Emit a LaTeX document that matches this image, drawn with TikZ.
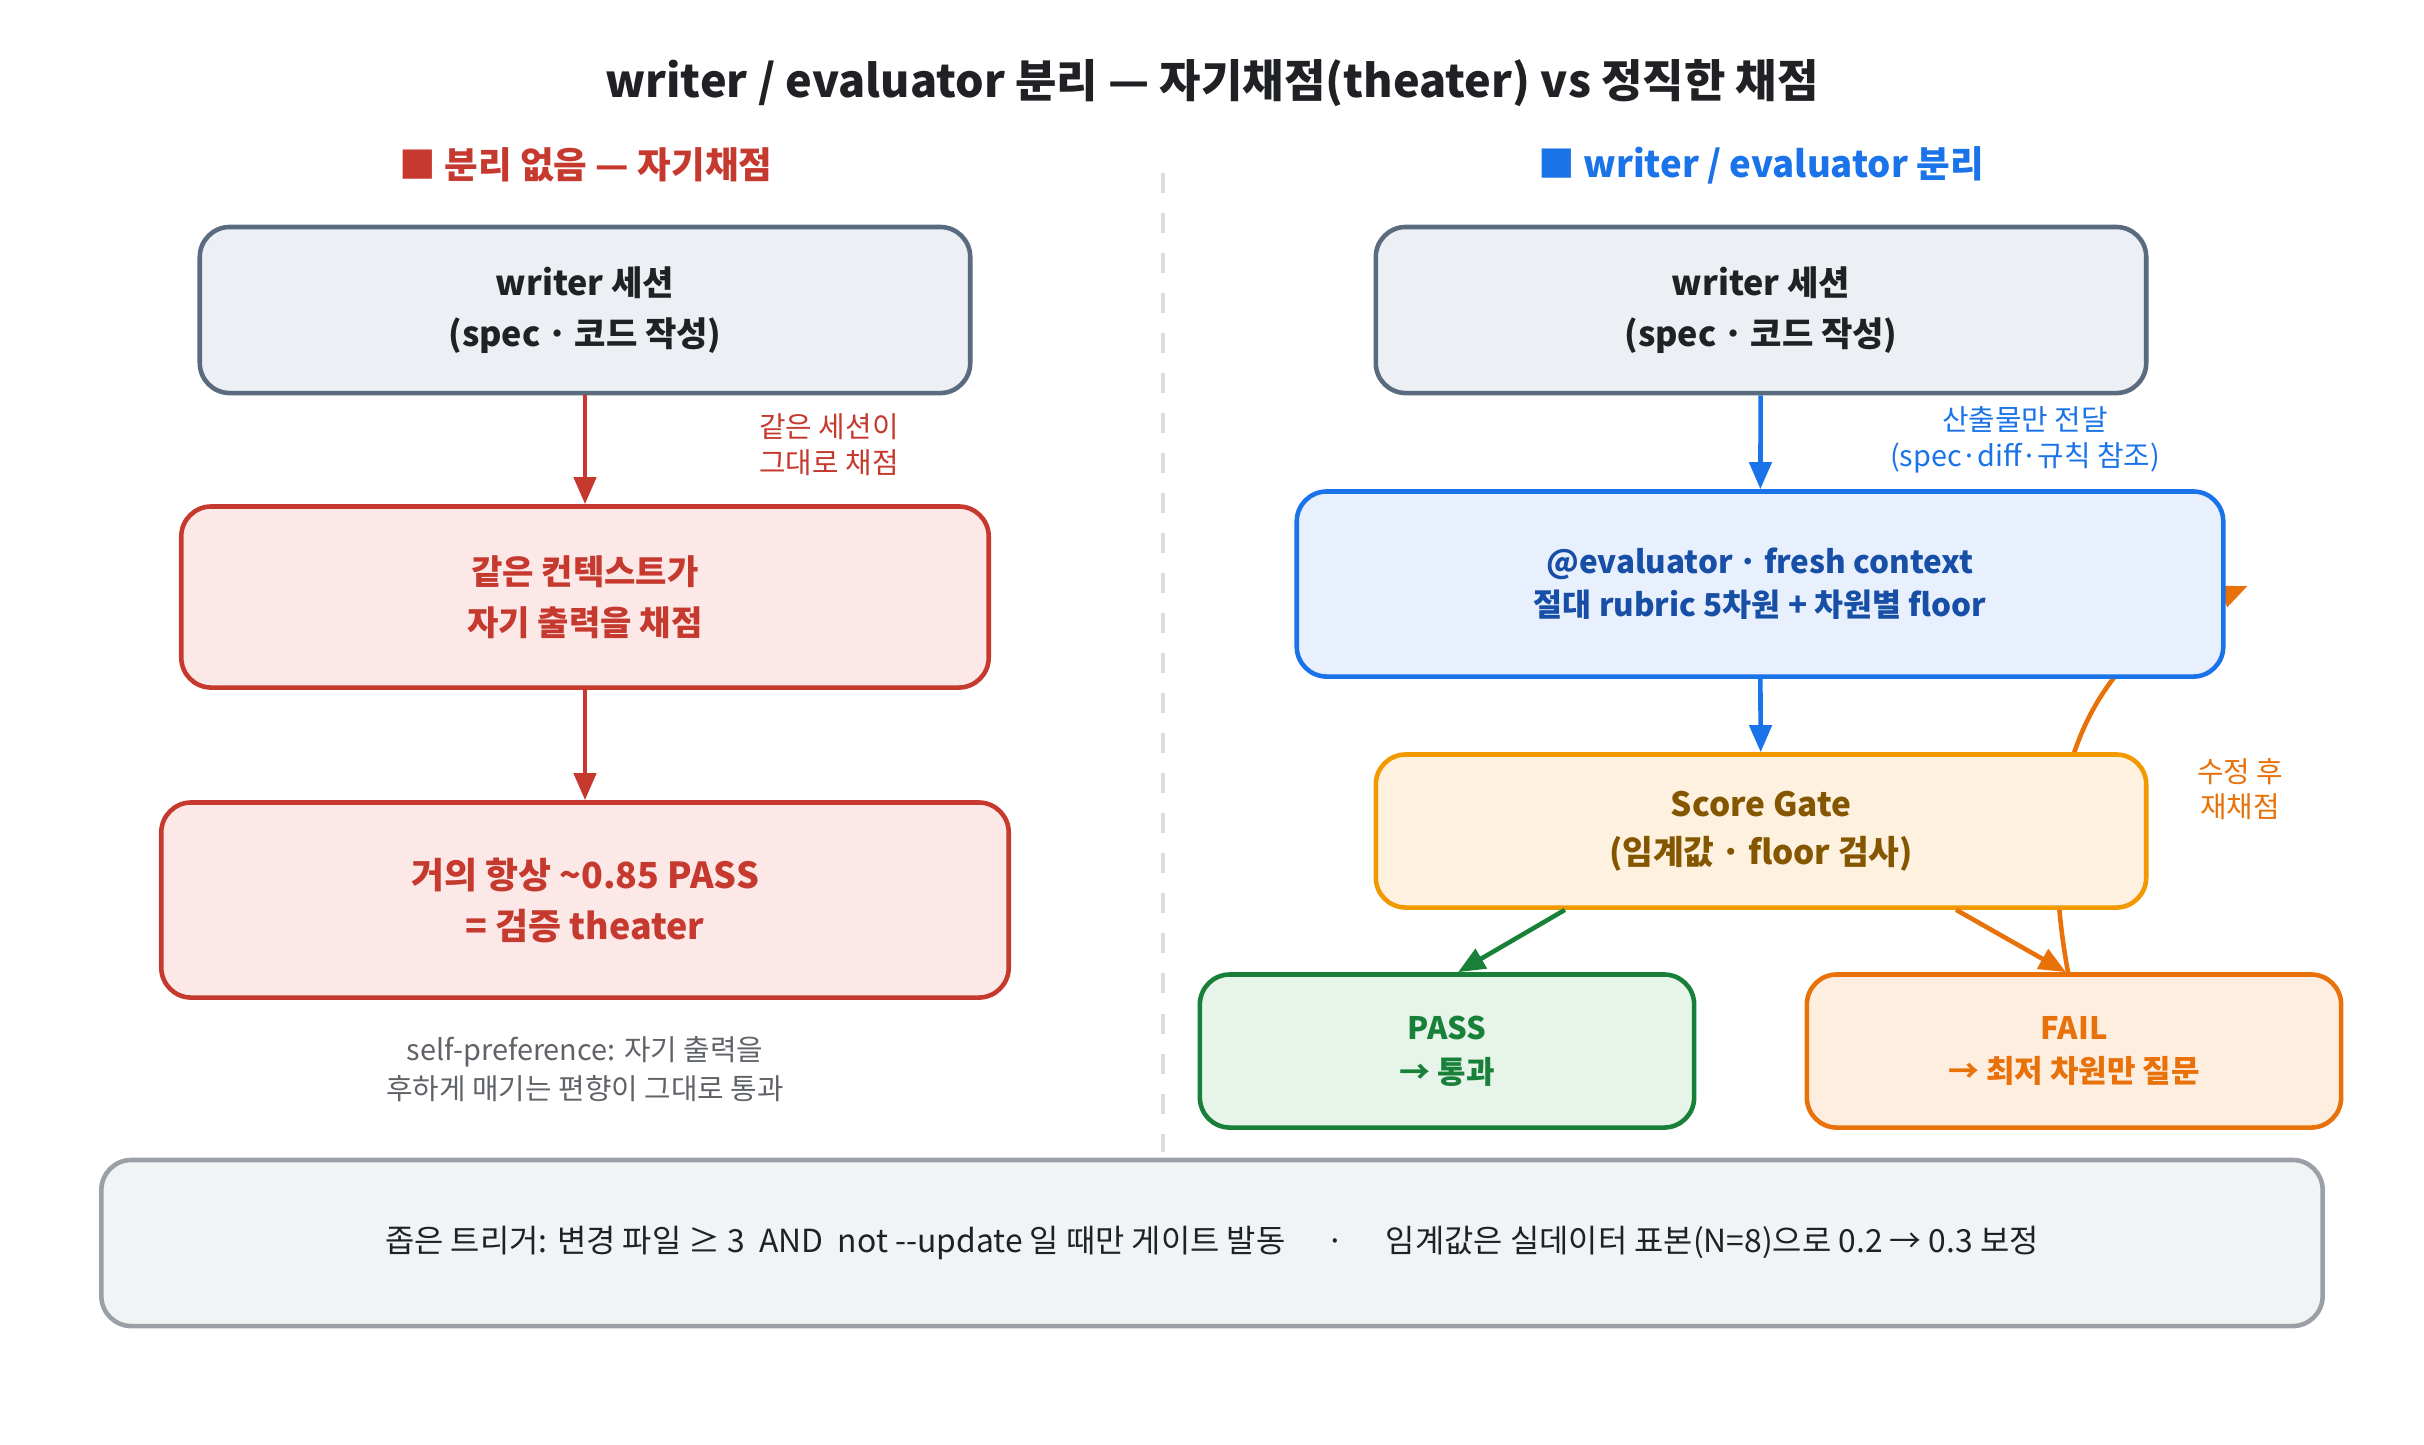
\documentclass[tikz,border=0pt]{standalone}
\usepackage{fontspec}
\setmainfont{Noto Sans CJK KR}
\usetikzlibrary{arrows.meta,positioning,calc,backgrounds}
\definecolor{ink}{HTML}{202124}
\definecolor{muted}{HTML}{5F6368}
\definecolor{slate}{HTML}{5B6B7F}
\definecolor{slatefill}{HTML}{ECEFF3}
\definecolor{alarm}{HTML}{C5392F}
\definecolor{alarmfill}{HTML}{FCE8E6}
\definecolor{sky}{HTML}{1A73E8}
\definecolor{skyfill}{HTML}{E8F0FD}
\definecolor{skyink}{HTML}{174EA6}
\definecolor{amber}{HTML}{F29900}
\definecolor{amberfill}{HTML}{FEF1DF}
\definecolor{amberink}{HTML}{855600}
\definecolor{leaf}{HTML}{188038}
\definecolor{leaffill}{HTML}{E6F4EA}
\definecolor{rust}{HTML}{E8710A}
\definecolor{rustfill}{HTML}{FDEEE0}
\definecolor{ash}{HTML}{9AA0A6}
\definecolor{ashfill}{HTML}{F1F3F4}
\definecolor{rule}{HTML}{DADCE0}
\newcommand{\middot}{{\mdseries ・}}
\tikzset{
  box/.style={rounded corners=0.3cm,line width=1.3pt,align=center,inner sep=0pt,
    font=\bfseries\fontsize{9.7}{14.5}\selectfont},
  writerbox/.style={box,draw=slate,fill=slatefill,text=ink,minimum width=7.7cm,minimum height=1.66cm},
  selfbox/.style={box,draw=alarm,fill=alarmfill,text=alarm},
  evalbox/.style={box,draw=sky,fill=skyfill,text=skyink,minimum width=9.26cm,minimum height=1.85cm,
    font=\bfseries\fontsize{8.95}{12.2}\selectfont},
  gatebox/.style={box,draw=amber,fill=amberfill,text=amberink,minimum width=7.7cm,minimum height=1.53cm,
    font=\bfseries\fontsize{9.5}{13.6}\selectfont},
  passbox/.style={box,draw=leaf,fill=leaffill,text=leaf,minimum width=4.94cm,minimum height=1.53cm},
  failbox/.style={box,draw=rust,fill=rustfill,text=rust,minimum width=5.34cm,minimum height=1.53cm},
  outcome/.style={font=\bfseries\fontsize{8.8}{12.4}\selectfont},
  footbox/.style={rounded corners=0.3cm,line width=1.3pt,draw=ash,fill=ashfill,text=ink,
    minimum width=22.2cm,minimum height=1.66cm,font=\fontsize{9.05}{12}\selectfont},
  heading/.style={font=\bfseries\fontsize{10.4}{12}\selectfont},
  note/.style={align=center,font=\fontsize{8.2}{10.3}\selectfont},
  flow/.style={line width=1.3pt,-{Triangle[length=0.27cm,width=0.22cm]}}
}

\begin{document}
\begin{tikzpicture}[x=0.01cm,y=-0.01cm]
  \useasboundingbox (0,0) rectangle (2424,1444);

  % Title and column headings
  \node[font=\bfseries\fontsize{12.8}{15}\selectfont,text=ink] (title) at (1212,83)
    {writer / evaluator 분리 — 자기채점(theater) vs 정직한 채점};
  \node[heading,text=alarm] (headL) at (586,165) {■\ 분리 없음 — 자기채점};
  \node[heading,text=sky] (headR) at (1761,165) {■\ writer / evaluator 분리};

  % Divider between the two columns
  \draw[rule,line width=1pt,dash pattern=on 0.2cm off 0.2cm] (1163,173) -- (1163,1152);

  % Left column: no separation
  \node[writerbox] (writerL) at (585,310) {writer 세션\\(spec\middot 코드 작성)};
  \node[selfbox,minimum width=8.07cm,minimum height=1.81cm] (same) at (585,597)
    {같은 컨텍스트가\\자기 출력을 채점};
  \node[selfbox,minimum width=8.47cm,minimum height=1.95cm,font=\bfseries\fontsize{10.2}{14.5}\selectfont]
    (theater) at (585,900) {거의 항상 \textasciitilde 0.85 PASS\\= 검증 theater};

  \draw[flow,alarm] (writerL) -- (same);
  \draw[flow,alarm] (same) -- (theater);

  \node[note,text=alarm] (sameNote) at (829,445) {같은 세션이\\그대로 채점};
  \node[note,text=muted,font=\fontsize{8.2}{11}\selectfont] (biasNote) at (585,1069)
    {self-preference: 자기 출력을\\후하게 매기는 편향이 그대로 통과};

  % Right column: writer / evaluator split
  \node[writerbox] (writerR) at (1761,310) {writer 세션\\(spec\middot 코드 작성)};
  \node[evalbox] (eval) at (1760,584)
    {@evaluator\middot fresh context\\절대 rubric 5차원 + 차원별 floor};
  \node[gatebox] (gate) at (1761,831) {Score Gate\\(임계값\middot floor 검사)};
  \node[passbox,outcome] (pass) at (1447,1051) {PASS\\→ 통과};
  \node[failbox,outcome] (fail) at (2074,1051) {FAIL\\→ 최저 차원만 질문};

  \draw[flow,sky] (writerR) -- (eval);
  \draw[flow,sky] (eval) -- (gate);
  \draw[flow,leaf] ([xshift=-1.96cm]gate.south) -- ([xshift=0.11cm]pass.north);
  \draw[flow,rust] ([xshift=1.95cm]gate.south) -- ([xshift=-0.08cm]fail.north);

  % Re-scoring loop runs behind the boxes
  \begin{pgfonlayer}{background}
    \draw[flow,rust] ([xshift=-0.06cm]fail.north) .. controls (2025,740) and (2120,640)
      .. ($(eval.east)+(22,2)$);
  \end{pgfonlayer}

  \node[note,text=sky] (handoff) at (2025,440) {산출물만 전달\\(spec·diff·규칙 참조)};
  \node[note,text=rust,font=\fontsize{8.2}{9.8}\selectfont] (retry) at (2240,789) {수정 후\\재채점};

  % Footer
  \node[footbox] (foot) at (1212,1243)
    {좁은 트리거: 변경 파일 ≥ 3\ \ AND\ \ not {-}{-}update 일 때만 게이트 발동\hspace{1.3em}·\hspace{1.3em}임계값은 실데이터 표본(N=8)으로 0.2 → 0.3 보정};
\end{tikzpicture}
\end{document}
